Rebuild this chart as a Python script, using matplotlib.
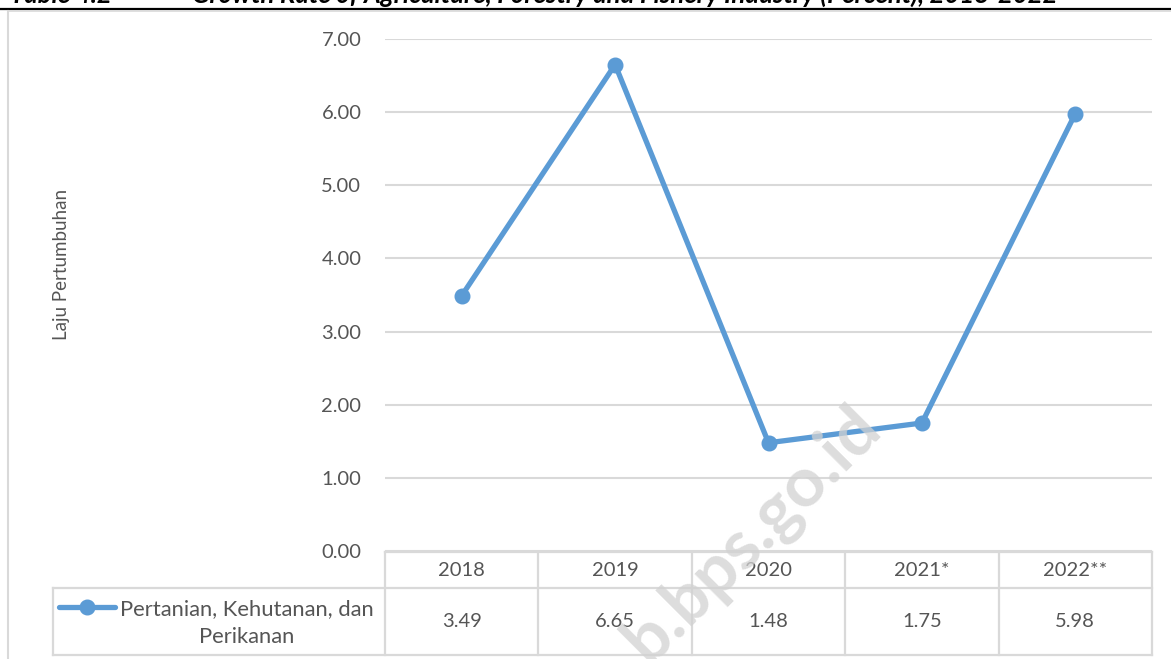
import matplotlib
matplotlib.use("Agg")
import matplotlib.pyplot as plt
from matplotlib.lines import Line2D

plt.rcParams['font.family'] = ['Lato', 'DejaVu Sans']

years = ["2018", "2019", "2020", "2021*", "2022**"]
values = [3.49, 6.65, 1.48, 1.75, 5.98]
series_name = "Pertanian, Kehutanan, dan\nPerikanan"
y_ticks = [0, 1, 2, 3, 4, 5, 6, 7]
y_label = "Laju Pertumbuhan"
title_num = "Table 4.2"
title_text = "Growth Rate of Agriculture, Forestry and Fishery Industry (Percent), 2018-2022"
watermark = "b.bps.go.id"

W, H = 1171, 659
fig = plt.figure(figsize=(W / 100, H / 100), dpi=100)

BLUE = "#5B9BD5"
GRID = "#D9D9D9"
TXT = "#555555"
FS = 14.5

# plot area in pixels
L, R, T, B = 385, 1152, 39, 551
ax = fig.add_axes([L / W, 1 - B / H, (R - L) / W, (B - T) / H])
n = len(years)
x = list(range(n))
ax.plot(x, values, color=BLUE, lw=3.8, marker='o', markersize=10.5,
        solid_joinstyle='round', zorder=3)
ax.set_xlim(-0.5, n - 0.5)
ax.set_ylim(0, 7)
ax.set_yticks(y_ticks)
ax.set_yticklabels([f"{v:.2f}" for v in y_ticks], color=TXT, fontsize=FS)
ax.tick_params(axis='y', length=0, pad=17)
ax.set_xticks([])
for s in ax.spines.values():
    s.set_visible(False)
ax.grid(axis='y', color=GRID, lw=1.5)
ax.set_axisbelow(True)
ax.patch.set_alpha(0)

# overlay axes in pixel coordinates
ov = fig.add_axes([0, 0, 1, 1], zorder=5)
ov.set_xlim(0, W)
ov.set_ylim(H, 0)
ov.axis('off')
ov.patch.set_alpha(0)

# title (cut off at top, as in the source page) and rule
ov.text(10, 3, title_num, fontsize=18.5, fontweight='bold', fontstyle='italic',
        color='black', va='baseline', ha='left')
ov.text(192, 3, title_text, fontsize=18.5, fontweight='bold', fontstyle='italic',
        color='black', va='baseline', ha='left')
ov.add_line(Line2D([0, W], [8.5, 8.5], color='black', lw=1.6))
# chart border
ov.add_line(Line2D([8, 8], [11, H], color=GRID, lw=1.5))
ov.add_line(Line2D([8, W], [11, 11], color=GRID, lw=1.2))

# y label
ov.text(62, 264, y_label, rotation=90, ha='center', va='center',
        fontsize=13.5, color=TXT)

# data table
colw = (R - L) / n
t_top, t_mid, t_bot = 552, 588, 655
leg_left = 53
lk = dict(color=GRID, lw=1.6)
ov.add_line(Line2D([L, R], [t_top, t_top], **lk))
ov.add_line(Line2D([leg_left, R], [t_mid, t_mid], **lk))
ov.add_line(Line2D([leg_left, R], [t_bot, t_bot], **lk))
ov.add_line(Line2D([leg_left, leg_left], [t_mid, t_bot], **lk))
ov.add_line(Line2D([L, L], [t_top, t_bot], **lk))
for i in range(1, n + 1):
    xe = L + i * colw
    ov.add_line(Line2D([xe, xe], [t_top, t_bot], **lk))
for i, (yr, v) in enumerate(zip(years, values)):
    xc = L + (i + 0.5) * colw
    ov.text(xc, (t_top + t_mid) / 2 + 1, yr, ha='center', va='center',
            fontsize=FS, color=TXT)
    ov.text(xc, (t_mid + t_bot) / 2, f"{v:.2f}", ha='center', va='center',
            fontsize=FS, color=TXT)
# legend key in table
ov.plot([59, 115], [607, 607], color=BLUE, lw=3.8, solid_capstyle='round')
ov.plot([87], [607], marker='o', color=BLUE, markersize=10.5)
ov.text(247, 623, series_name, ha='center', va='center', fontsize=15.8,
        color=TXT, multialignment='center', linespacing=1.45)

# watermark
ov.text(753, 535, watermark, rotation=45, rotation_mode='anchor',
        ha='center', va='center', fontsize=50, fontweight='bold',
        color='#D2D2D2', alpha=0.75, zorder=10)

fig.savefig("out.png", dpi=100)
